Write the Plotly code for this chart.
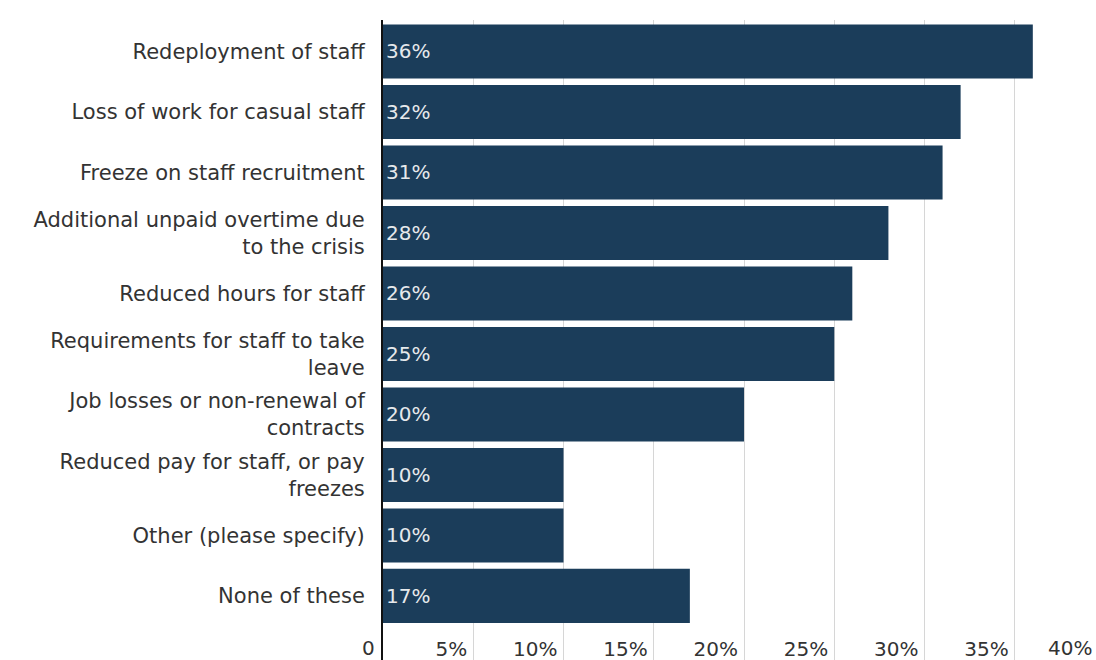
import plotly.graph_objects as go

# Responses, listed top to bottom
categories = [
    "Redeployment of staff",
    "Loss of work for casual staff",
    "Freeze on staff recruitment",
    "Additional unpaid overtime due<br>to the crisis",
    "Reduced hours for staff",
    "Requirements for staff to take<br>leave",
    "Job losses or non-renewal of<br>contracts",
    "Reduced pay for staff, or pay<br>freezes",
    "Other (please specify)",
    "None of these",
]
values = [36, 32, 31, 28, 26, 25, 20, 10, 10, 17]
bar_labels = [f"{v}%" for v in values]

tick_vals = [0, 5, 10, 15, 20, 25, 30, 35, 40]
tick_text = ["0", "5%", "10%", "15%", "20%", "25%", "30%", "35%", "40%"]

FONT = "DejaVu Sans"
BAR = "#1b3d5a"
TEXT = "#333333"
X_MAX = 39.5  # axis is cut just short of the 40% gridline

fig = go.Figure(
    go.Bar(
        x=values,
        y=categories,
        orientation="h",
        marker=dict(color=BAR, line=dict(width=0)),
        text=bar_labels,
        textposition="inside",
        insidetextanchor="start",
        textfont=dict(family=FONT, size=20, color="#e6e9ec"),
        hoverinfo="skip",
    )
)

# Tick labels that fall on the plot edges (0 and 40%) are placed as annotations
edge_labels = [
    dict(text=tick_text[0], x=0, xref="paper", xanchor="right", xshift=-6),
    dict(text=tick_text[-1], x=1, xref="paper", xanchor="right", xshift=-2),
]
annotations = [
    dict(
        **a,
        y=0,
        yref="paper",
        yanchor="bottom",
        yshift=-2,
        showarrow=False,
        font=dict(family=FONT, size=20, color=TEXT),
    )
    for a in edge_labels
]

fig.update_layout(
    width=1096,
    height=660,
    margin=dict(l=383, r=0, t=20, b=0),
    paper_bgcolor="white",
    plot_bgcolor="white",
    bargap=0.107,
    showlegend=False,
    font=dict(family=FONT, size=21, color=TEXT),
    annotations=annotations,
)

fig.update_xaxes(
    range=[0, X_MAX],
    tickvals=tick_vals,
    ticktext=tick_text,
    ticklabelposition="inside left",
    ticklabelstandoff=-6,
    ticklabelshift=-6,
    showgrid=True,
    gridcolor="#d6d6d6",
    gridwidth=1,
    zeroline=False,
    showline=False,
    ticks="",
    tickfont=dict(family=FONT, size=20, color=TEXT),
    fixedrange=True,
)

fig.update_yaxes(
    range=[10.06, -0.52],
    showline=True,
    linecolor="#111111",
    linewidth=2,
    showgrid=False,
    ticks="",
    ticklabelstandoff=12,
    tickfont=dict(family=FONT, size=21, color=TEXT),
    fixedrange=True,
)

fig.write_html("out.html")
